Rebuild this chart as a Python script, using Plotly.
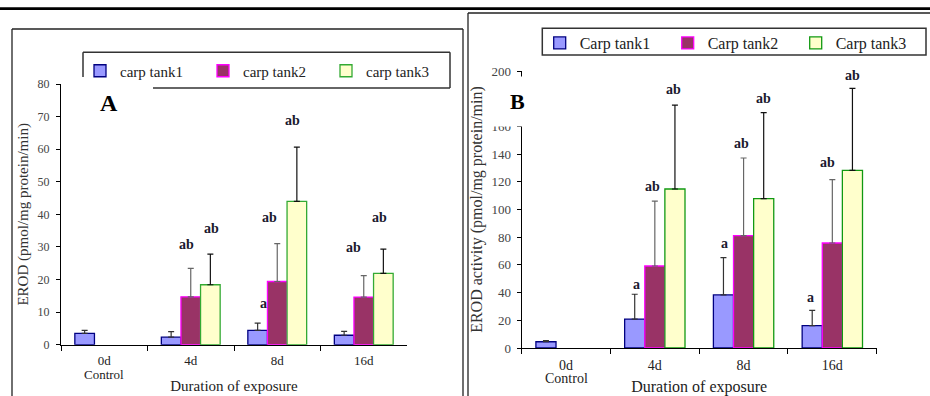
import plotly.graph_objects as go

# ---------------- data ----------------
categories = ["0d", "4d", "8d", "16d"]
names_a = ["carp tank1", "carp tank2", "carp tank3"]
names_b = ["Carp tank1", "Carp tank2", "Carp tank3"]

# Panel A: EROD (pmol/mg protein/min)
a_tank1 = [3.5, 2.3, 4.4, 2.9]
a_tank1_sd = [0.9, 1.7, 2.2, 1.2]
a_tank2 = [None, 14.7, 19.4, 14.6]
a_tank2_sd = [None, 8.7, 11.6, 6.6]
a_tank3 = [None, 18.4, 44.0, 21.9]
a_tank3_sd = [None, 9.4, 16.6, 7.4]

# Panel B: EROD activity (pmol/mg protein/min)
b_tank1 = [4.5, 20.9, 38.3, 16.1]
b_tank1_sd = [0.8, 17.9, 26.9, 11.1]
b_tank2 = [None, 59.2, 81.1, 75.8]
b_tank2_sd = [None, 46.8, 56.1, 45.7]
b_tank3 = [None, 114.8, 107.8, 128.3]
b_tank3_sd = [None, 60.6, 62.1, 59.2]

# significance letters: (category index, offset in category units, height, text)
a_letters = [(1, -0.044, 30.8, "ab"), (1, 0.237, 35.7, "ab"),
             (2, -0.162, 12.5, "a"), (2, -0.092, 38.9, "ab"), (2, 0.173, 68.9, "ab"),
             (3, -0.116, 29.8, "ab"), (3, 0.185, 38.9, "ab")]
b_letters = [(1, -0.206, 45.5, "a"), (1, -0.026, 116.7, "ab"), (1, 0.21, 186.3, "ab"),
             (2, -0.22, 75.6, "a"), (2, -0.023, 147.3, "ab"), (2, 0.229, 180.3, "ab"),
             (3, -0.248, 36.3, "a"), (3, -0.06, 133.8, "ab"), (3, 0.222, 196.4, "ab")]

# ---------------- style ----------------
W, H = 930, 396
FONT = "Liberation Serif, Times New Roman, serif"
fills = ["#9999FF", "#993366", "#FFFFCC"]
lines_a = ["#000080", "#FF00FF", "#33AA33"]
lines_b = ["#000080", "#FF00FF", "#119911"]
err_cols = ["#333333", "#666666", "#111111"]


def px(x):
    return x / W


def py(y):
    return (H - y) / H


fig = go.Figure()

for i, (vals, sd) in enumerate([(a_tank1, a_tank1_sd), (a_tank2, a_tank2_sd), (a_tank3, a_tank3_sd)]):
    fig.add_trace(go.Bar(
        x=categories, y=vals, name=names_a[i], xaxis="x", yaxis="y", legend="legend",
        marker=dict(color=fills[i], line=dict(color=lines_a[i], width=1.3)),
        error_y=dict(type="data", symmetric=False, array=sd, arrayminus=[0] * 4,
                     width=3, thickness=1.2, color=err_cols[i]),
    ))

for i, (vals, sd) in enumerate([(b_tank1, b_tank1_sd), (b_tank2, b_tank2_sd), (b_tank3, b_tank3_sd)]):
    fig.add_trace(go.Bar(
        x=categories, y=vals, name=names_b[i], xaxis="x2", yaxis="y2", legend="legend2",
        marker=dict(color=fills[i], line=dict(color=lines_b[i], width=1.3)),
        error_y=dict(type="data", symmetric=False, array=sd, arrayminus=[0] * 4,
                     width=3, thickness=1.2, color=err_cols[i]),
    ))

xcommon = dict(type="category", showline=True, linecolor="black", linewidth=1,
               ticks="outside", tickson="boundaries", ticklen=5, tickcolor="black",
               showgrid=False, zeroline=False, automargin=False, range=[-0.5, 3.5])
ycommon = dict(showline=True, linecolor="black", linewidth=1, ticks="outside",
               ticklen=4, tickcolor="black", showgrid=False, zeroline=False,
               automargin=False)

fig.update_layout(
    width=W, height=H, margin=dict(l=0, r=0, t=0, b=0),
    paper_bgcolor="white", plot_bgcolor="white",
    barmode="group", bargap=0.32, bargroupgap=0,
    font=dict(family=FONT, color="#222222"),
    xaxis=dict(xcommon, domain=[px(61), px(407)], anchor="y",
               tickfont=dict(family=FONT, size=13, color="#222222"), ticklabelstandoff=4,
               title=dict(text="Duration of exposure", font=dict(family=FONT, size=15, color="#222222"),
                          standoff=13)),
    yaxis=dict(ycommon, domain=[py(344.7), py(84)], anchor="x", range=[0, 80], dtick=10,
               tickfont=dict(family=FONT, size=12, color="#444444"), ticklabelstandoff=4,
               title=dict(text="EROD (pmol/mg protein/min)", font=dict(family=FONT, size=15, color="#333333"),
                          standoff=5)),
    xaxis2=dict(xcommon, domain=[px(521.7), px(876.7)], anchor="y2",
                tickfont=dict(family=FONT, size=14, color="#222222"), ticklabelstandoff=4,
                title=dict(text="Duration of exposure", font=dict(family=FONT, size=16, color="#222222"),
                           standoff=12)),
    yaxis2=dict(ycommon, domain=[py(348), py(71)], anchor="x2", range=[0, 200], dtick=20,
                tickfont=dict(family=FONT, size=13, color="#444444"), ticklabelstandoff=3,
                title=dict(text="EROD activity (pmol/mg protein/min)",
                           font=dict(family=FONT, size=16, color="#333333"), standoff=4)),
    legend=dict(orientation="h", x=px(80), xanchor="left", y=py(71), yanchor="middle",
                entrywidth=78, entrywidthmode="pixels", bgcolor="rgba(0,0,0,0)", borderwidth=0,
                font=dict(family=FONT, size=15, color="#222222"), traceorder="normal"),
    legend2=dict(orientation="h", x=px(539.7), xanchor="left", y=py(43), yanchor="middle",
                 entrywidth=83, entrywidthmode="pixels", bgcolor="rgba(0,0,0,0)", borderwidth=0,
                 font=dict(family=FONT, size=16, color="#222222"), traceorder="normal"),
)

# frames and legend boxes
shape_lines = [
    (0, 8.7, 930, 8.7, 2.8, "black"),           # top rule
    (12, 29, 463, 29, 1.3, "#222222"),          # panel A frame
    (12, 29, 12, 400, 1.3, "#222222"),
    (463, 29, 463, 400, 1.3, "#222222"),
    (468, 13, 930, 13, 1.3, "#222222"),         # panel B frame
    (468, 13, 468, 400, 1.3, "#222222"),
    (83, 52.3, 450, 52.3, 1.5, "#333333"),      # legend A box (partly hidden)
    (450, 52.3, 450, 88, 1.5, "#333333"),
    (153, 88, 450, 88, 1.5, "#333333"),
    (83, 52.3, 83, 77, 1.5, "#333333"),
]
for x0, y0, x1, y1, w, c in shape_lines:
    fig.add_shape(type="line", xref="paper", yref="paper", x0=px(x0), y0=py(y0), x1=px(x1), y1=py(y1),
                  line=dict(color=c, width=w))
fig.add_shape(type="rect", xref="paper", yref="paper", x0=px(542.3), y0=py(28.3), x1=px(926), y1=py(55),
              line=dict(color="#333333", width=1.5))

# significance letters
for ci, dx, yv, t in a_letters:
    fig.add_annotation(x=ci + dx, y=yv, xref="x", yref="y", text="<b>" + t + "</b>", showarrow=False,
                       font=dict(family=FONT, size=14, color="#1a1a2e"), xanchor="center", yanchor="middle")
for ci, dx, yv, t in b_letters:
    fig.add_annotation(x=ci + dx, y=yv, xref="x2", yref="y2", text="<b>" + t + "</b>", showarrow=False,
                       font=dict(family=FONT, size=14, color="#1a1a2e"), xanchor="center", yanchor="middle")

# "Control" sub-labels
fig.add_annotation(x=0, xref="x", y=py(374.3), yref="paper", text="Control", showarrow=False,
                   font=dict(family=FONT, size=13, color="#222222"), xanchor="center", yanchor="middle")
fig.add_annotation(x=0, xref="x2", y=py(378.3), yref="paper", text="Control", showarrow=False,
                   font=dict(family=FONT, size=14, color="#222222"), xanchor="center", yanchor="middle")

# panel letters
fig.add_annotation(x=px(109), y=py(103), xref="paper", yref="paper", text="<b>A</b>", showarrow=False,
                   font=dict(family=FONT, size=24, color="black"), xanchor="center", yanchor="middle")
fig.add_annotation(x=px(506), y=py(101.5), xref="paper", yref="paper", text="<b>B</b>", showarrow=False,
                   font=dict(family=FONT, size=22, color="black"), xanchor="center", yanchor="middle",
                   bgcolor="white", width=38, height=47, align="right", borderpad=1)

fig.write_html("out.html")
